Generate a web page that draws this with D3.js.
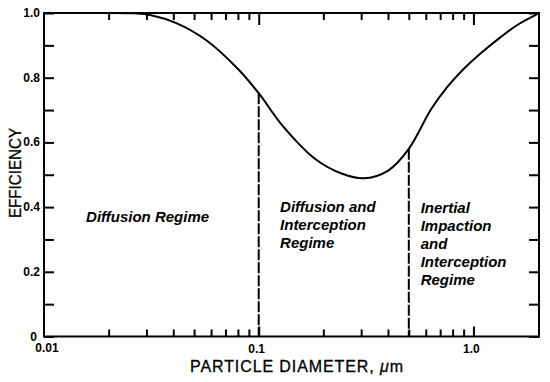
<!DOCTYPE html>
<html>
<head>
<meta charset="utf-8">
<script src="https://cdn.jsdelivr.net/npm/d3@7"></script>
<style>
html,body{margin:0;padding:0;background:#fff;}
svg{display:block;}
</style>
</head>
<body>
<svg id="chart" width="550" height="382"></svg>
<script>
// ---- data ----
const diameter = [0.0172, 0.0263, 0.0312, 0.0416, 0.0572, 0.0803, 0.1, 0.129, 0.184, 0.245, 0.308, 0.401, 0.5, 0.636, 0.759, 0.9, 1.12, 1.33, 1.6, 1.96, 2.02];
const efficiency = [1.0, 0.999, 0.994, 0.968, 0.915, 0.826, 0.752, 0.652, 0.548, 0.503, 0.489, 0.513, 0.58, 0.703, 0.773, 0.827, 0.884, 0.924, 0.963, 0.995, 1.0];
const boundaries = [0.1, 0.5];
const boundaryEff = [0.752, 0.58];
const yTickValues = [0, 0.2, 0.4, 0.6, 0.8, 1.0];
const yTickLabels = ["0", "0.2", "0.4", "0.6", "0.8", "1.0"];
const yMinorTicks = [0.1, 0.3, 0.5, 0.7, 0.9];
const xTickValues = [0.01, 0.1, 1.0];
const xTickLabels = ["0.01", "0.1", "1.0"];
const xMinorTicks = [0.02, 0.03, 0.04, 0.05, 0.06, 0.07, 0.08, 0.09, 0.2, 0.3, 0.4, 0.5, 0.6, 0.7, 0.8, 0.9];
const regimeLabels = [
  {x: 0.0157, y: 0.355, lines: ["Diffusion Regime"]},
  {x: 0.1257, y: 0.384, lines: ["Diffusion and", "Interception", "Regime"]},
  {x: 0.568, y: 0.381, lines: ["Inertial", "Impaction", "and", "Interception", "Regime"]}
];

// ---- drawing ----
const svg = d3.select("#chart");
const x = d3.scaleLog().domain([0.01, 2.02]).range([44, 539]);
const y = d3.scaleLinear().domain([0, 1]).range([336.5, 13]);
const g = svg.append("g");
const font = "'Liberation Sans', Arial, sans-serif";

// frame
g.append("rect").attr("x", x(0.01)).attr("y", y(1)).attr("width", x(2.02) - x(0.01)).attr("height", y(0) - y(1))
  .attr("fill", "none").attr("stroke", "#000").attr("stroke-width", 2);

// bottom axis ticks (inward)
const xb = d3.axisBottom(x).tickValues(xMinorTicks).tickSize(-7).tickFormat("");
const xbG = g.append("g").attr("transform", `translate(0,${y(0)})`).call(xb);
const xbMaj = d3.axisBottom(x).tickValues(xTickValues.slice(1)).tickSize(-10).tickFormat("");
const xbMajG = g.append("g").attr("transform", `translate(0,${y(0)})`).call(xbMaj);
// top axis ticks (inward)
const xt = d3.axisTop(x).tickValues(xMinorTicks).tickSize(-7).tickFormat("");
const xtG = g.append("g").attr("transform", `translate(0,${y(1)})`).call(xt);
const xtMaj = d3.axisTop(x).tickValues(xTickValues.slice(1)).tickSize(-12).tickFormat("");
const xtMajG = g.append("g").attr("transform", `translate(0,${y(1)})`).call(xtMaj);
// left axis ticks
const yl = d3.axisLeft(y).tickValues(yTickValues.concat(yMinorTicks)).tickSize(-10).tickFormat("");
const ylG = g.append("g").attr("transform", `translate(${x(0.01)},0)`).call(yl);
// right axis ticks
const yr = d3.axisRight(y).tickValues(yTickValues.concat(yMinorTicks)).tickSize(-10).tickFormat("");
const yrG = g.append("g").attr("transform", `translate(${x(2.02)},0)`).call(yr);
[xbG, xbMajG, xtG, xtMajG, ylG, yrG].forEach(a => {
  a.select(".domain").remove();
  a.selectAll("line").attr("stroke", "#000").attr("stroke-width", 2);
});

// y tick labels
g.selectAll(".ylab").data(yTickValues).enter().append("text")
  .attr("x", (d, i) => i === 0 ? 37 : 40).attr("y", d => y(d) + 4)
  .attr("text-anchor", "end").attr("font-family", font).attr("font-weight", "bold").attr("font-size", 12)
  .text((d, i) => yTickLabels[i]);
// x tick labels
g.selectAll(".xlab").data(xTickValues).enter().append("text")
  .attr("x", (d, i) => x(d) + (i === 0 ? 3 : -2)).attr("y", (d, i) => i === 0 ? 352 : 353)
  .attr("text-anchor", "middle").attr("font-family", font).attr("font-weight", "bold").attr("font-size", 12)
  .text((d, i) => xTickLabels[i]);

// axis titles
const xt1 = g.append("text").attr("x", 190).attr("y", 372).attr("font-family", font).attr("font-size", 16)
  .attr("stroke", "#000").attr("stroke-width", 0.3)
  .attr("textLength", 213).attr("lengthAdjust", "spacing");
xt1.append("tspan").text("PARTICLE DIAMETER, ");
xt1.append("tspan").attr("font-style", "italic").text("μ");
xt1.append("tspan").text("m");
g.append("text").attr("transform", "translate(21,218) rotate(-90)").attr("font-family", font).attr("font-size", 17)
  .attr("stroke", "#000").attr("stroke-width", 0.3)
  .attr("textLength", 90).attr("lengthAdjust", "spacingAndGlyphs").text("EFFICIENCY");

// boundary dashed lines
g.selectAll(".bnd").data(boundaries).enter().append("line")
  .attr("x1", d => x(d)).attr("x2", d => x(d))
  .attr("y1", (d, i) => y(boundaryEff[i])).attr("y2", y(0))
  .attr("stroke", "#000").attr("stroke-width", 2).attr("stroke-dasharray", "11,2");

// curve
const pts = diameter.map((d, i) => [d, efficiency[i]]);
g.append("path").datum(pts)
  .attr("d", d3.line().x(d => x(d[0])).y(d => y(d[1])).curve(d3.curveCatmullRom.alpha(0.5)))
  .attr("fill", "none").attr("stroke", "#000").attr("stroke-width", 2);

// regime labels
regimeLabels.forEach(r => {
  const t = g.append("text").attr("font-family", font).attr("font-weight", "bold").attr("font-style", "italic")
    .attr("font-size", 15);
  r.lines.forEach((ln, i) => {
    t.append("tspan").attr("x", x(r.x)).attr("y", y(r.y) + i * 18).text(ln);
  });
});
</script>
</body>
</html>
